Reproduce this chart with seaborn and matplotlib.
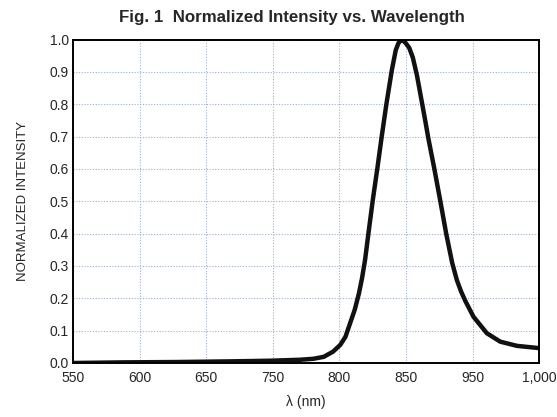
import numpy as np
import pandas as pd
import matplotlib
matplotlib.use("Agg")
import matplotlib.pyplot as plt
import seaborn as sns

wavelength = [550, 600, 650, 700, 740, 769, 782, 792, 801, 808, 813, 817.5,
              822, 826, 829, 832, 835.2, 839.4, 843.9, 848, 852.5, 857.8,
              861.6, 864.3, 867.4, 871, 874.5, 878, 882, 886, 890, 893,
              898.6, 904.4, 910.2, 916, 920.5, 924.5, 929, 936.6, 949.5, 962.4,
              978.5, 1000]
intensity = [0.000, 0.002, 0.003, 0.005, 0.007, 0.010, 0.013, 0.019, 0.035, 0.056,
             0.081, 0.123, 0.165, 0.215, 0.262, 0.320, 0.401, 0.504, 0.604, 0.700,
             0.800, 0.906, 0.968, 0.990, 1.000, 0.990, 0.975, 0.945, 0.890, 0.820,
             0.750, 0.695, 0.604, 0.504, 0.401, 0.310, 0.257, 0.222, 0.190, 0.143,
             0.092, 0.066, 0.053, 0.046]
xtick_labels = ["550", "600", "650", "750", "800", "850", "950", "1,000"]
ytick_values = [0.0, 0.1, 0.2, 0.3, 0.4, 0.5, 0.6, 0.7, 0.8, 0.9, 1.0]

df = pd.DataFrame({"wavelength": wavelength, "intensity": intensity})

sns.set_style("white")
plt.rcParams["font.family"] = ["Liberation Sans", "DejaVu Sans"]

fig = plt.figure(figsize=(5.57, 4.17), dpi=100)
ax = fig.add_axes([0.131, 0.1295, 0.837, 0.7755])

sns.lineplot(data=df, x="wavelength", y="intensity", ax=ax, color="#111111",
             linewidth=3.2, solid_capstyle="round", solid_joinstyle="round")

ax.set_xlim(550, 1000)
ax.set_ylim(0, 1.0)
xt = np.linspace(550, 1000, len(xtick_labels))
ax.set_xticks(xt)
ax.set_xticklabels(xtick_labels, fontsize=10)
ax.set_yticks(ytick_values)
ax.set_yticklabels([f"{v:.1f}" for v in ytick_values], fontsize=10)
ax.tick_params(axis="y", length=0, pad=3)
ax.tick_params(axis="x", length=0, pad=6)
ax.grid(True, color="#9fb0cc", linestyle=(0, (1, 1.5)), linewidth=0.8)
for s in ax.spines.values():
    s.set_color("black")
    s.set_linewidth(1.4)

ax.set_xlabel("λ (nm)", fontsize=10, labelpad=7)
ax.set_ylabel("NORMALIZED INTENSITY", fontsize=9.5, labelpad=15)
ax.set_title("Fig. 1  Normalized Intensity vs. Wavelength", fontsize=12.2,
             fontweight="bold", pad=13, x=0.469)

fig.savefig("out.png", dpi=100)
